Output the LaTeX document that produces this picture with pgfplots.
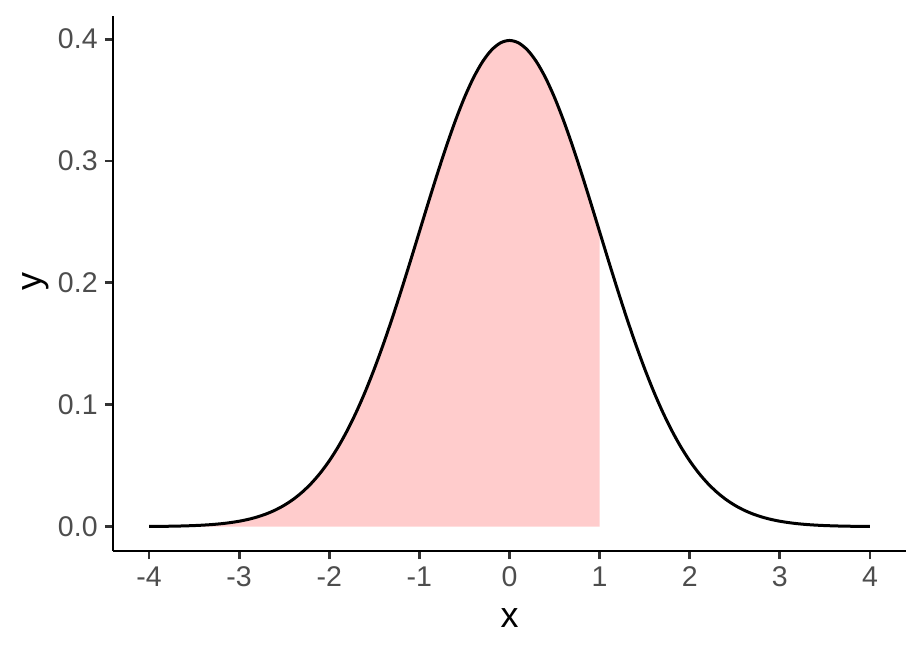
\documentclass[border=0pt]{standalone}
\usepackage{fontspec}
\setmainfont{Liberation Sans}
\usepackage{pgfplots}
\pgfplotsset{compat=1.18}
\usepackage{pgfplotstable}
\usetikzlibrary{calc}

\definecolor{shade}{HTML}{FFCCCC}
\definecolor{ticktext}{HTML}{4D4D4D}
\definecolor{tickmark}{HTML}{333333}

% standard normal density, step 0.1
\pgfplotstableread{
x y
-4.0 0.00013
-3.9 0.00020
-3.8 0.00029
-3.7 0.00042
-3.6 0.00061
-3.5 0.00087
-3.4 0.00123
-3.3 0.00172
-3.2 0.00238
-3.1 0.00327
-3.0 0.00443
-2.9 0.00595
-2.8 0.00792
-2.7 0.01042
-2.6 0.01358
-2.5 0.01753
-2.4 0.02239
-2.3 0.02833
-2.2 0.03547
-2.1 0.04398
-2.0 0.05399
-1.9 0.06562
-1.8 0.07895
-1.7 0.09405
-1.6 0.11092
-1.5 0.12952
-1.4 0.14973
-1.3 0.17137
-1.2 0.19419
-1.1 0.21785
-1.0 0.24197
-0.9 0.26609
-0.8 0.28969
-0.7 0.31225
-0.6 0.33322
-0.5 0.35207
-0.4 0.36827
-0.3 0.38139
-0.2 0.39104
-0.1 0.39695
0.0 0.39894
0.1 0.39695
0.2 0.39104
0.3 0.38139
0.4 0.36827
0.5 0.35207
0.6 0.33322
0.7 0.31225
0.8 0.28969
0.9 0.26609
1.0 0.24197
1.1 0.21785
1.2 0.19419
1.3 0.17137
1.4 0.14973
1.5 0.12952
1.6 0.11092
1.7 0.09405
1.8 0.07895
1.9 0.06562
2.0 0.05399
2.1 0.04398
2.2 0.03547
2.3 0.02833
2.4 0.02239
2.5 0.01753
2.6 0.01358
2.7 0.01042
2.8 0.00792
2.9 0.00595
3.0 0.00443
3.1 0.00327
3.2 0.00238
3.3 0.00172
3.4 0.00123
3.5 0.00087
3.6 0.00061
3.7 0.00042
3.8 0.00029
3.9 0.00020
4.0 0.00013
}\curve

% shaded area from -4 to 1, closed on y = 0
\pgfplotstableread{
x y
-4.0 0
-4.0 0.00013
-3.8 0.00029
-3.6 0.00061
-3.4 0.00123
-3.2 0.00238
-3.0 0.00443
-2.9 0.00595
-2.8 0.00792
-2.7 0.01042
-2.6 0.01358
-2.5 0.01753
-2.4 0.02239
-2.3 0.02833
-2.2 0.03547
-2.1 0.04398
-2.0 0.05399
-1.9 0.06562
-1.8 0.07895
-1.7 0.09405
-1.6 0.11092
-1.5 0.12952
-1.4 0.14973
-1.3 0.17137
-1.2 0.19419
-1.1 0.21785
-1.0 0.24197
-0.9 0.26609
-0.8 0.28969
-0.7 0.31225
-0.6 0.33322
-0.5 0.35207
-0.4 0.36827
-0.3 0.38139
-0.2 0.39104
-0.1 0.39695
0.0 0.39894
0.1 0.39695
0.2 0.39104
0.3 0.38139
0.4 0.36827
0.5 0.35207
0.6 0.33322
0.7 0.31225
0.8 0.28969
0.9 0.26609
1.0 0.24000
1.0 0
}\area

\begin{document}
\begin{tikzpicture}
\begin{axis}[
    name=ax,
    scale only axis,
    width=396.5bp, height=267.5bp,
    xmin=-4.4, xmax=4.4,
    ymin=-0.02, ymax=0.419,
    axis x line=bottom, axis y line=left,
    axis line style={-, line width=1.4bp, black},
    xtick={-4,-3,-2,-1,0,1,2,3,4},
    xticklabels={-4,-3,-2,-1,0,1,2,3,4},
    ytick={0,0.1,0.2,0.3,0.4},
    yticklabels={0.0,0.1,0.2,0.3,0.4},
    tick align=outside,
    major tick length=4bp,
    tick style={line width=1.4bp, color=tickmark},
    ticklabel style={font=\fontsize{14.3}{16}\selectfont, text=ticktext},
    xticklabel style={anchor=base, yshift=-13.5bp},
    yticklabel style={anchor=east, inner sep=0pt, xshift=-3.5bp},
    xlabel={x}, ylabel={y},
    label style={font=\fontsize{18}{20}\selectfont, text=black},
    xlabel style={at={(axis description cs:0.5,-0.1439)}, anchor=base},
    ylabel style={at={(axis description cs:-0.0904,0.503)}, anchor=base, rotate=0},
    clip=false,
]
\addplot[fill=shade, draw=none] table[x=x, y=y] {\area};
\addplot[black, line width=1.5bp, smooth] table[x=x, y=y] {\curve};
\end{axis}
\pgfresetboundingbox
\path[use as bounding box] ($(ax.south west)+(-56.5bp,-50.5bp)$) rectangle ($(ax.north east)+(7.5bp,8bp)$);
\end{tikzpicture}
\end{document}
